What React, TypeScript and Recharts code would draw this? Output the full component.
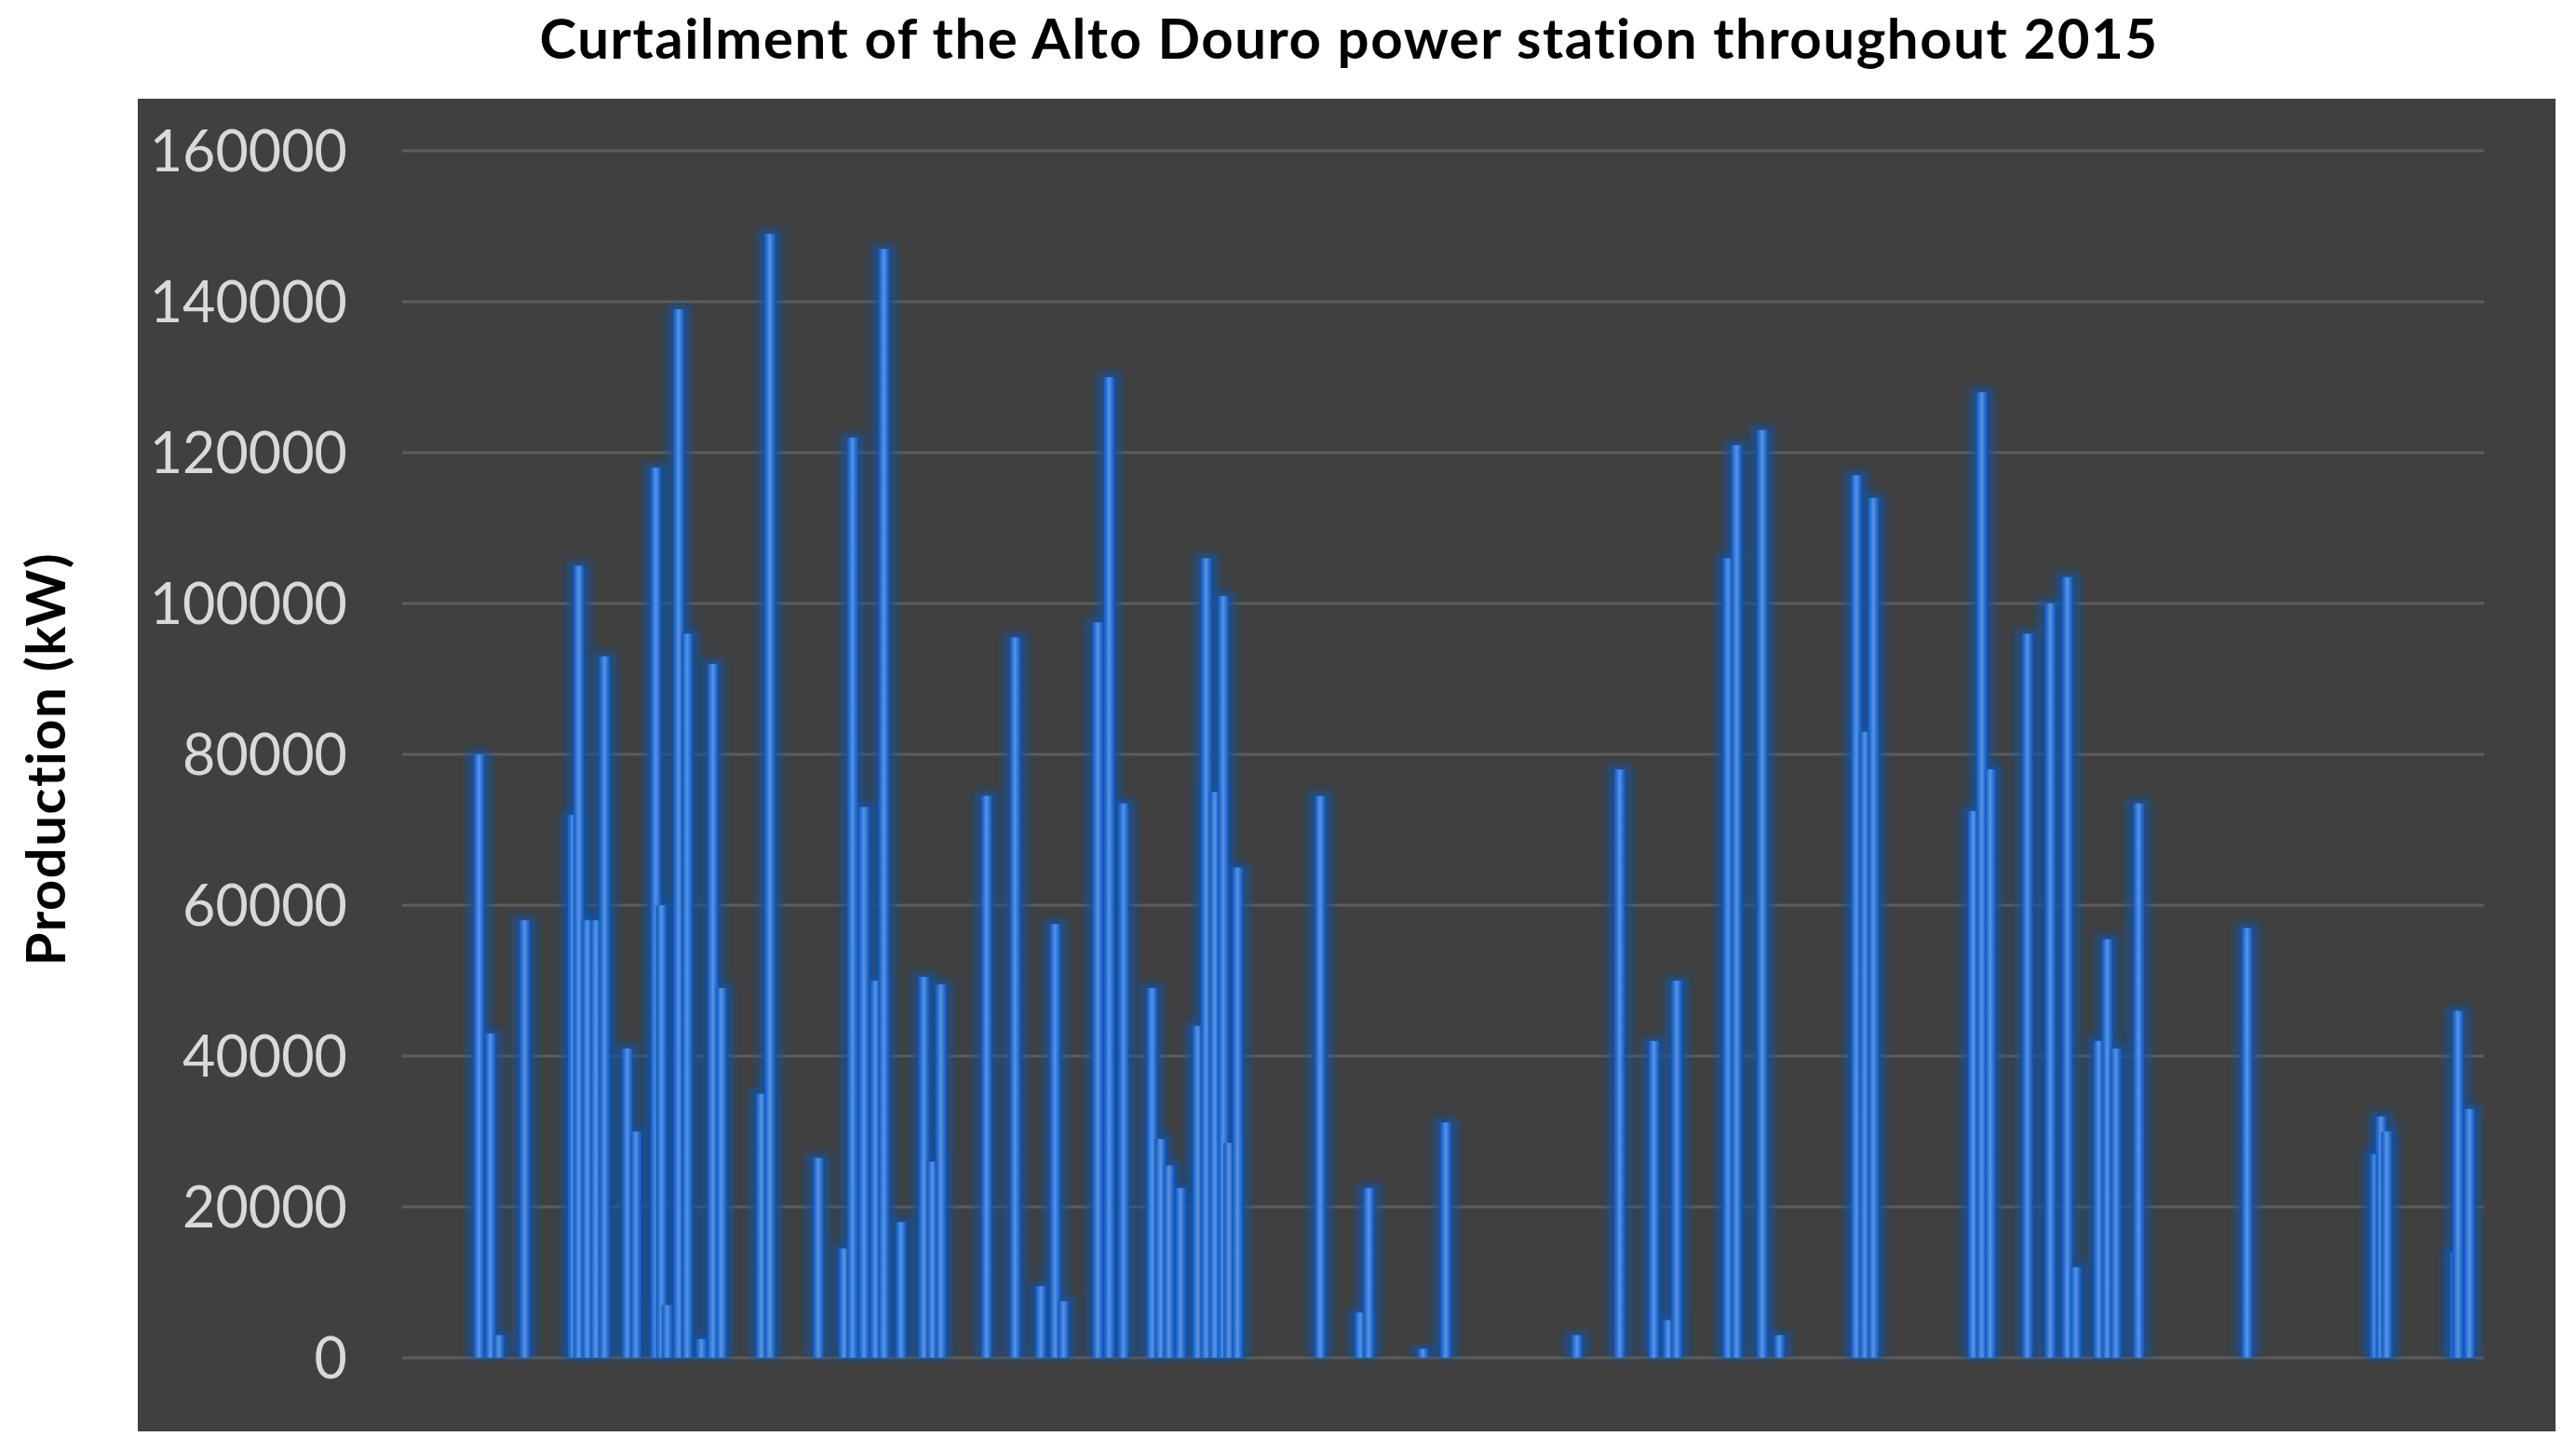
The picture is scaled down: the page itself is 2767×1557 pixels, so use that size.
import React from 'react';
import { BarChart, Bar, XAxis, YAxis, CartesianGrid } from 'recharts';

// Day of the year (2015) on which curtailment was recorded
const days: number[] = [
  13.5, 15.5, 17, 21.5, 30, 31, 32.5, 34, 35.5, 39.5, 41, 44.5, 45.5, 46.5, 48.5, 50, 52.5, 54.5, 56,
  63, 64.5, 73, 77.5, 79, 81, 83, 84.5, 87.5, 91.5, 93, 94.5, 102.5, 107.5, 112, 114.5, 116,
  122, 124, 126.5, 131.5, 133, 134.5, 136.5, 139.5, 141, 142.5, 144, 145, 146.5, 161, 168, 169.5,
  179, 183, 206, 213.5, 219.5, 222, 223.5, 232.5, 234, 238.5, 241.5, 255, 256.5, 258,
  275.5, 277, 278.5, 285, 289, 292, 293.5, 297.5, 299, 300.5, 304.5, 323.5,
  346, 347, 348, 360, 360.5, 362.5,
];

// Curtailed production (kW)
const production: number[] = [
  80000, 43000, 3000, 58000, 72000, 105000, 58000, 58000, 93000, 41000, 30000, 118000, 60000, 7000, 139000, 96000, 2500, 92000, 49000,
  35000, 149000, 26500, 14500, 122000, 73000, 50000, 147000, 18000, 50500, 26000, 49500, 74500, 95500, 9500, 57500, 7500,
  97500, 130000, 73500, 49000, 29000, 25500, 22500, 44000, 106000, 75000, 101000, 28500, 65000, 74500, 6000, 22500,
  1200, 31200, 3000, 78000, 42000, 5000, 50000, 106000, 121000, 123000, 3000, 117000, 83000, 114000,
  72500, 128000, 78000, 96000, 100000, 103500, 12000, 42000, 55500, 41000, 73500, 57000,
  27000, 32000, 30000, 14000, 46000, 33000,
];

const yTicks: number[] = [0, 20000, 40000, 60000, 80000, 100000, 120000, 140000, 160000];

const TITLE = 'Curtailment of the Alto Douro power station throughout 2015';
const Y_LABEL = 'Production (kW)';

const data = days.map((d, i) => ({ day: d, production: production[i] }));

const BAR_W = 12;
const GLOW_W = 26;

const CoreBar = (props: any) => {
  const { x, y, width, height } = props;
  if (height == null || !(height > 0)) return <g />;
  const cx = x + width / 2;
  return <rect x={cx - BAR_W / 2} y={y} width={BAR_W} height={height} fill="url(#barGrad)" />;
};

const GlowBar = (props: any) => {
  const { x, y, width, height } = props;
  if (height == null || !(height > 0)) return <g />;
  const cx = x + width / 2;
  return (
    <rect
      x={cx - GLOW_W / 2}
      y={y - 5}
      width={GLOW_W}
      height={height + 5}
      fill="#1553a3"
      fillOpacity={0.7}
      filter="url(#soft)"
    />
  );
};

export default function App() {
  return (
    <div style={{ position: 'absolute', left: 0, top: 0, width: 2767, height: 1557, background: '#ffffff', overflow: 'hidden' }}>
      <div style={{ position: 'absolute', left: 148, top: 106, width: 2597, height: 1431, background: '#404040' }} />
      <div
        style={{
          position: 'absolute', left: 0, top: 6, width: 2898, textAlign: 'center',
          fontFamily: 'Lato, sans-serif', fontWeight: 700, fontSize: 60, letterSpacing: 1.5, color: '#000', lineHeight: '68px', whiteSpace: 'nowrap',
        }}
      >
        {TITLE}
      </div>
      <div
        style={{
          position: 'absolute', left: 48, top: 815, transform: 'translate(-50%, -50%) rotate(-90deg)',
          fontFamily: 'Lato, sans-serif', fontWeight: 700, fontSize: 58, letterSpacing: 1.5, color: '#000', whiteSpace: 'nowrap', lineHeight: '64px',
        }}
      >
        {Y_LABEL}
      </div>
      <div style={{ position: 'absolute', left: 0, top: 0 }}>
        <BarChart width={2767} height={1557} data={data} margin={{ top: 162, right: 99, bottom: 99, left: 0 }}>
          <defs>
            <linearGradient id="barGrad" x1="0" y1="0" x2="1" y2="0">
              <stop offset="0%" stopColor="#1456b2" />
              <stop offset="22%" stopColor="#2470d8" />
              <stop offset="50%" stopColor="#5e92de" />
              <stop offset="78%" stopColor="#2470d8" />
              <stop offset="100%" stopColor="#1456b2" />
            </linearGradient>
            <filter id="soft" x="-60%" y="-5%" width="220%" height="110%">
              <feGaussianBlur stdDeviation="4" />
            </filter>
          </defs>
          <CartesianGrid vertical={false} stroke="#5e5e5e" strokeWidth={3} />
          <XAxis type="number" dataKey="day" domain={[0, 365]} hide allowDataOverflow />
          <XAxis xAxisId="glow" type="number" dataKey="day" domain={[0, 365]} hide allowDataOverflow />
          <YAxis
            width={432}
            domain={[0, 160000]}
            ticks={yTicks}
            interval={0}
            axisLine={false}
            tickLine={false}
            tickMargin={53}
            tick={{ fill: '#d9d9d9', fontSize: 61, fontFamily: 'Lato, sans-serif' }}
          />
          <Bar dataKey="production" xAxisId="glow" shape={GlowBar} isAnimationActive={false} />
          <Bar dataKey="production" shape={CoreBar} isAnimationActive={false} />
        </BarChart>
      </div>
    </div>
  );
}
